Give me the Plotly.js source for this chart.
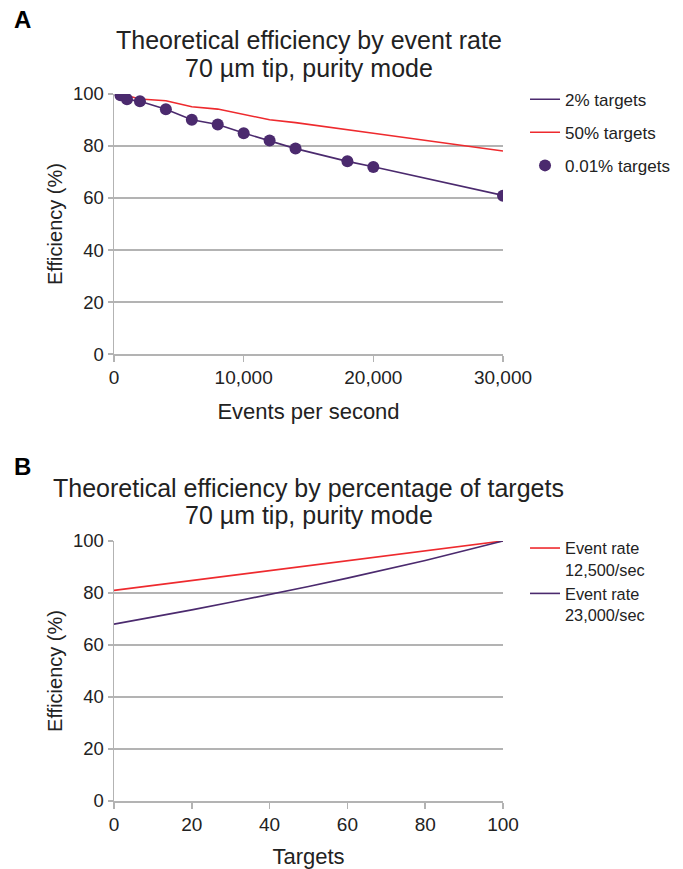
<!DOCTYPE html>
<html>
<head>
<meta charset="utf-8">
<script src="https://cdn.plot.ly/plotly-3.0.1.min.js"></script>
<style>html,body{margin:0;padding:0;background:#fff;}#chart{width:683px;height:869px;}</style>
</head>
<body>
<div id="chart"></div>
<script>
// Panel A: efficiency by event rate
const eventsPerSec = [500, 1000, 2000, 4000, 6000, 8000, 10000, 12000, 14000, 18000, 20000, 30000];
const eff2pct = [99.8, 98, 97.2, 94.1, 90.1, 88.3, 85, 82.1, 79, 74.1, 72, 61];
const eff50pct = [100, 99.3, 98.1, 97.4, 95.1, 94.2, 92.1, 90.1, 89, 86.1, 84.9, 78.1];
const eff001pct = [99.5, 98, 97.2, 94.1, 90.1, 88.3, 84.9, 82.1, 79, 74.1, 71.9, 60.9];

// Panel B: efficiency by percentage of targets
const targetsPct = [0, 10, 20, 30, 40, 50, 60, 70, 80, 90, 100];
const eff12500 = [81, 82.9, 84.8, 86.7, 88.6, 90.4, 92.3, 94.2, 96.1, 98.1, 100];
const eff23000 = [68, 70.7, 73.5, 76.4, 79.4, 82.5, 85.7, 89.0, 92.5, 96.2, 100];

const yTicks = [0, 20, 40, 60, 80, 100];
const xTicksA = [0, 10000, 20000, 30000];
const xTicksB = [0, 20, 40, 60, 80, 100];

const purple = '#4b2a6e';
const red = '#ee2a2e';
const grey = '#b3b3b3';
const textCol = '#222222';
const FONT = 'Liberation Sans, Arial, sans-serif';

const traces = [
  {x: eventsPerSec, y: eff2pct, type: 'scatter', mode: 'lines', name: '2% targets',
   line: {color: purple, width: 1.6}, xaxis: 'x', yaxis: 'y', legend: 'legend', legendgroup: 'a1'},
  {x: eventsPerSec, y: eff50pct, type: 'scatter', mode: 'lines', name: '50% targets',
   line: {color: red, width: 1.6}, xaxis: 'x', yaxis: 'y', legend: 'legend', legendgroup: 'a2'},
  {x: eventsPerSec, y: eff001pct, type: 'scatter', mode: 'markers', name: '0.01% targets',
   marker: {color: purple, size: 12}, xaxis: 'x', yaxis: 'y', legend: 'legend', legendgroup: 'a3'},
  {x: targetsPct, y: eff12500, type: 'scatter', mode: 'lines', name: 'Event rate<br>12,500/sec',
   line: {color: red, width: 1.6}, xaxis: 'x2', yaxis: 'y2', legend: 'legend2', legendgroup: 'b1'},
  {x: targetsPct, y: eff23000, type: 'scatter', mode: 'lines', name: 'Event rate<br>23,000/sec',
   line: {color: purple, width: 1.6}, xaxis: 'x2', yaxis: 'y2', legend: 'legend2', legendgroup: 'b2'}
];

function yAxis(domain, anchor) {
  return {
    domain: domain, anchor: anchor, range: [0, 100], tickvals: yTicks, ticktext: yTicks.map(String),
    showgrid: true, gridcolor: grey, gridwidth: 1.5, zeroline: false,
    showline: true, linecolor: grey, linewidth: 1.5,
    ticks: 'outside', ticklen: 5, tickcolor: grey, tickwidth: 1.5,
    tickfont: {family: FONT, size: 18.5, color: textCol},
    title: {text: 'Efficiency (%)', font: {family: FONT, size: 20, color: textCol}, standoff: 5},
    fixedrange: true, automargin: false
  };
}
function xAxis(range, ticks, labels, title, anchor) {
  return {
    domain: [0, 1], anchor: anchor, range: range, tickvals: ticks, ticktext: labels,
    showgrid: false, zeroline: false,
    showline: true, linecolor: grey, linewidth: 1.5,
    ticks: 'outside', ticklen: 6, tickcolor: grey, tickwidth: 1.5,
    tickfont: {family: FONT, size: 19, color: textCol},
    title: {text: title, font: {family: FONT, size: 22, color: textCol}, standoff: 16},
    fixedrange: true, automargin: false
  };
}

const fmt = v => v.toLocaleString('en-US');

function ann(text, x, y, size, anchorX) {
  return {text: text, xref: 'paper', yref: 'paper', x: x, y: y, xanchor: anchorX, yanchor: 'middle',
          showarrow: false, font: {family: FONT, size: size, color: textCol}};
}

const layout = {
  width: 683, height: 869,
  margin: {l: 114, r: 180, t: 94, b: 68, autoexpand: false},
  paper_bgcolor: '#fff', plot_bgcolor: '#fff',
  font: {family: FONT, color: textCol},
  showlegend: true,
  xaxis: xAxis([0, 30000], xTicksA, xTicksA.map(fmt), 'Events per second', 'y'),
  yaxis: yAxis([0.6322, 1], 'x'),
  xaxis2: xAxis([0, 100], xTicksB, xTicksB.map(String), 'Targets', 'y2'),
  yaxis2: yAxis([0, 0.3678], 'x2'),
  legend: {x: 1.0566, y: 1.0175, xanchor: 'left', yanchor: 'top', font: {family: FONT, size: 17, color: textCol},
           tracegroupgap: 8, bgcolor: 'rgba(0,0,0,0)'},
  legend2: {x: 1.0566, y: 0.382, xanchor: 'left', yanchor: 'top', font: {family: FONT, size: 16.3, color: textCol},
            tracegroupgap: 0, valign: 'top', bgcolor: 'rgba(0,0,0,0)'},
  annotations: [
    Object.assign(ann('<b>A</b>', -0.262, 1.106, 24, 'left'), {font: {family: FONT, size: 24, color: '#000'}}),
    ann('Theoretical efficiency by event rate', 0.5, 1.0764, 25, 'center'),
    ann('70 µm tip, purity mode', 0.5, 1.0368, 25, 'center'),
    Object.assign(ann('<b>B</b>', -0.262, 0.4738, 24, 'left'), {font: {family: FONT, size: 24, color: '#000'}}),
    ann('Theoretical efficiency by percentage of targets', 0.5, 0.4427, 25, 'center'),
    ann('70 µm tip, purity mode', 0.5, 0.4045, 25, 'center')
  ]
};

Plotly.newPlot('chart', traces, layout, {displayModeBar: false, staticPlot: true});
</script>
</body>
</html>
